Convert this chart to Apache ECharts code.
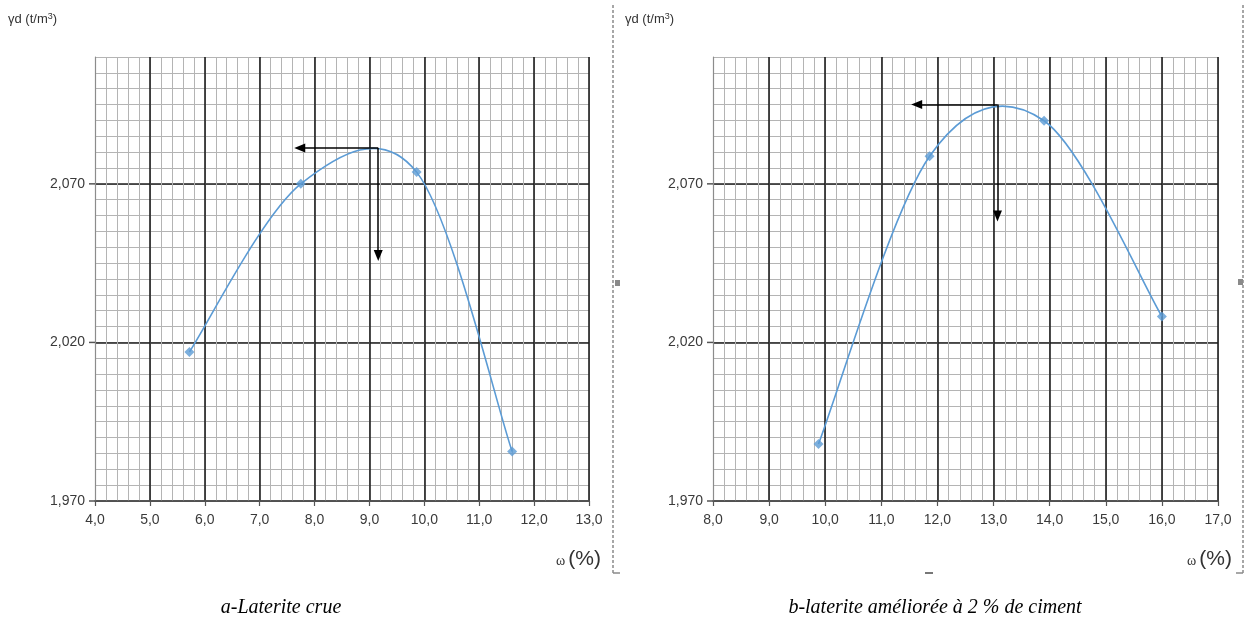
<!DOCTYPE html>
<html>
<head>
<meta charset="utf-8">
<script src="https://cdn.jsdelivr.net/npm/echarts@6/dist/echarts.min.js"></script>
<style>
  html, body { margin: 0; padding: 0; background: #fff; }
  #main { width: 1247px; height: 628px; }
</style>
</head>
<body>
<div id="main"></div>
<script>
// a - laterite crue
var omegaA = [5.72, 7.75, 9.86, 11.6];
var gammaA = [2.017, 2.070, 2.0737, 1.9856];
var optimumA = [9.16, 2.0813];   // coin des flèches
var arrowEndA = [7.73, 2.0474];  // bout flèche gauche (x), bout flèche bas (y)
var xRangeA = [4, 13];

// b - laterite améliorée à 2 % de ciment
var omegaB = [9.88, 11.86, 13.9, 16.0];
var gammaB = [1.988, 2.0787, 2.0899, 2.0282];
var optimumB = [13.07, 2.095];
var arrowEndB = [11.63, 2.0599];
var xRangeB = [8, 17];

var yRange = [1.97, 2.11];
var yLabels = [1.97, 2.02, 2.07];
var captions = ['a-Laterite crue', 'b-laterite améliorée à 2 % de ciment'];

var chart = echarts.init(document.getElementById('main'));

var labelFont = { fontFamily: 'Liberation Sans, Arial', fontSize: 14, color: '#3a3a3a' };
var minorColor = '#b4b4b4';
var majorColor = '#1f1f1f';
var curveColor = '#5B9BD5';

function pairs(xs, ys) {
  var out = [];
  for (var i = 0; i < xs.length; i++) out.push([xs[i], ys[i]]);
  return out;
}

function xAxes(gridIndex, range) {
  return [
    { // quadrillage fin 0.2
      type: 'value', gridIndex: gridIndex, position: 'bottom', min: range[0], max: range[1], interval: 0.2,
      axisLine: { show: false }, axisTick: { show: false }, axisLabel: { show: false },
      splitLine: { show: true, lineStyle: { color: minorColor, width: 1 } }
    },
    { // quadrillage principal 1.0
      type: 'value', gridIndex: gridIndex, position: 'bottom', min: range[0], max: range[1], interval: 1,
      axisLine: { show: true, onZero: false, lineStyle: { color: '#555', width: 1.5 } },
      axisTick: { show: true, length: 5, lineStyle: { color: '#555', width: 1.2 } },
      axisLabel: Object.assign({ margin: 12, formatter: function(v) { return v.toFixed(1).replace('.', ','); } }, labelFont),
      splitLine: { show: true, showMinLine: false, lineStyle: { color: majorColor, width: 1.6 } }
    }
  ];
}

function yAxes(gridIndex) {
  return [
    {
      type: 'value', gridIndex: gridIndex, position: 'left', min: yRange[0], max: yRange[1], interval: 0.005,
      axisLine: { show: true, onZero: false, lineStyle: { color: '#8c8c8c', width: 1.2 } },
      axisTick: { show: false }, axisLabel: { show: false },
      splitLine: { show: true, lineStyle: { color: minorColor, width: 1 } }
    },
    {
      type: 'value', gridIndex: gridIndex, position: 'left', min: yRange[0], max: yRange[1], interval: 0.01,
      axisLine: { show: false }, axisTick: { show: false },
      axisLabel: {
        margin: 0,
        formatter: function(v) {
          for (var i = 0; i < yLabels.length; i++) {
            if (Math.abs(v - yLabels[i]) < 1e-6) return '{n|' + v.toFixed(3).replace('.', ',') + '}{t|}';
          }
          return '';
        },
        rich: {
          n: { fontFamily: 'Liberation Sans, Arial', fontSize: 14, color: '#3a3a3a', padding: [0, 4, 0, 0] },
          t: { width: 6, height: 1.5, backgroundColor: '#555' }
        }
      },
      splitLine: { show: true,
        lineStyle: { color: [majorColor, 'transparent', 'transparent', 'transparent', 'transparent'], width: 1.6 } }
    }
  ];
}

// courbe lissée (type Excel) : un segment de Bézier par point mesuré
function curveSeries(axisIndex, xs, ys) {
  return {
    type: 'custom',
    coordinateSystem: 'cartesian2d',
    xAxisIndex: axisIndex, yAxisIndex: axisIndex,
    data: pairs(xs, ys),
    encode: { x: 0, y: 1 },
    silent: true,
    z: 4,
    renderItem: function(params, api) {
      var n = xs.length, i = params.dataIndex;
      if (i >= n - 1) return null;
      var P = function(k) {
        k = Math.max(0, Math.min(n - 1, k));
        return api.coord([xs[k], ys[k]]);
      };
      var p0 = P(i - 1), p1 = P(i), p2 = P(i + 1), p3 = P(i + 2);
      return {
        type: 'bezierCurve',
        shape: {
          x1: p1[0], y1: p1[1], x2: p2[0], y2: p2[1],
          cpx1: p1[0] + (p2[0] - p0[0]) / 6, cpy1: p1[1] + (p2[1] - p0[1]) / 6,
          cpx2: p2[0] - (p3[0] - p1[0]) / 6, cpy2: p2[1] - (p3[1] - p1[1]) / 6
        },
        style: { stroke: curveColor, lineWidth: 1.6, fill: null }
      };
    }
  };
}

function pointSeries(axisIndex, xs, ys, opt, ends) {
  return {
    type: 'scatter',
    xAxisIndex: axisIndex, yAxisIndex: axisIndex,
    data: pairs(xs, ys),
    symbol: 'diamond', symbolSize: 10,
    itemStyle: { color: curveColor },
    z: 5,
    markLine: {
      silent: true,
      symbol: ['none', 'triangle'],
      symbolSize: [9, 11],
      label: { show: false },
      lineStyle: { color: '#000', type: 'solid', width: 1.5 },
      data: [
        [{ coord: opt }, { coord: [ends[0], opt[1]] }],
        [{ coord: opt }, { coord: [opt[0], ends[1]] }]
      ]
    }
  };
}

function dashed(x, y1, y2) {
  return { type: 'line', shape: { x1: x, y1: y1, x2: x, y2: y2 },
    style: { stroke: '#8a8a8a', lineWidth: 1.5, lineDash: [3, 2] } };
}

var gammaTitle = { text: '{t|γd (t/m}{s|3}{t|)}',
  rich: { t: { fontFamily: 'Liberation Sans', fontSize: 13, fill: '#333' },
          s: { fontFamily: 'Liberation Sans', fontSize: 9, fill: '#333', padding: [0, 0, 6, 0] } } };

var omegaLabel = { text: '{w|ω}{p|(%)}',
  rich: { w: { fontFamily: 'Liberation Serif', fontSize: 14, fill: '#333', padding: [4, 3, 0, 0] },
          p: { fontFamily: 'Liberation Sans', fontSize: 21, fill: '#333' } } };

chart.setOption({
  animation: false,
  backgroundColor: '#fff',
  grid: [
    { left: 95, right: 658, top: 57, bottom: 127 },
    { left: 713, right: 29, top: 57, bottom: 127 }
  ],
  xAxis: xAxes(0, xRangeA).concat(xAxes(1, xRangeB)),
  yAxis: yAxes(0).concat(yAxes(1)),
  series: [
    curveSeries(1, omegaA, gammaA),
    pointSeries(1, omegaA, gammaA, optimumA, arrowEndA),
    curveSeries(3, omegaB, gammaB),
    pointSeries(3, omegaB, gammaB, optimumB, arrowEndB)
  ],
  graphic: [
    { type: 'text', left: 8, top: 12, style: gammaTitle },
    { type: 'text', left: 625, top: 12, style: gammaTitle },
    { type: 'text', left: 556, top: 549, style: omegaLabel },
    { type: 'text', left: 1187, top: 549, style: omegaLabel },
    { type: 'text', x: 281, y: 608, style: { text: captions[0], font: 'italic 20px Liberation Serif', fill: '#000', align: 'center', verticalAlign: 'middle' } },
    { type: 'text', x: 935, y: 608, style: { text: captions[1], font: 'italic 20px Liberation Serif', fill: '#000', align: 'center', verticalAlign: 'middle' } },
    dashed(613, 5, 573),
    dashed(1243, 5, 573),
    { type: 'line', shape: { x1: 613, y1: 573, x2: 620, y2: 573 }, style: { stroke: '#8a8a8a', lineWidth: 1.5 } },
    { type: 'line', shape: { x1: 1236, y1: 573, x2: 1243, y2: 573 }, style: { stroke: '#8a8a8a', lineWidth: 1.5 } },
    { type: 'line', shape: { x1: 925, y1: 573, x2: 933, y2: 573 }, style: { stroke: '#777', lineWidth: 2 } },
    { type: 'rect', shape: { x: 615, y: 280, width: 5, height: 6 }, style: { fill: '#8a8a8a' } },
    { type: 'rect', shape: { x: 1238, y: 279, width: 5, height: 6 }, style: { fill: '#8a8a8a' } }
  ]
});
</script>
</body>
</html>
